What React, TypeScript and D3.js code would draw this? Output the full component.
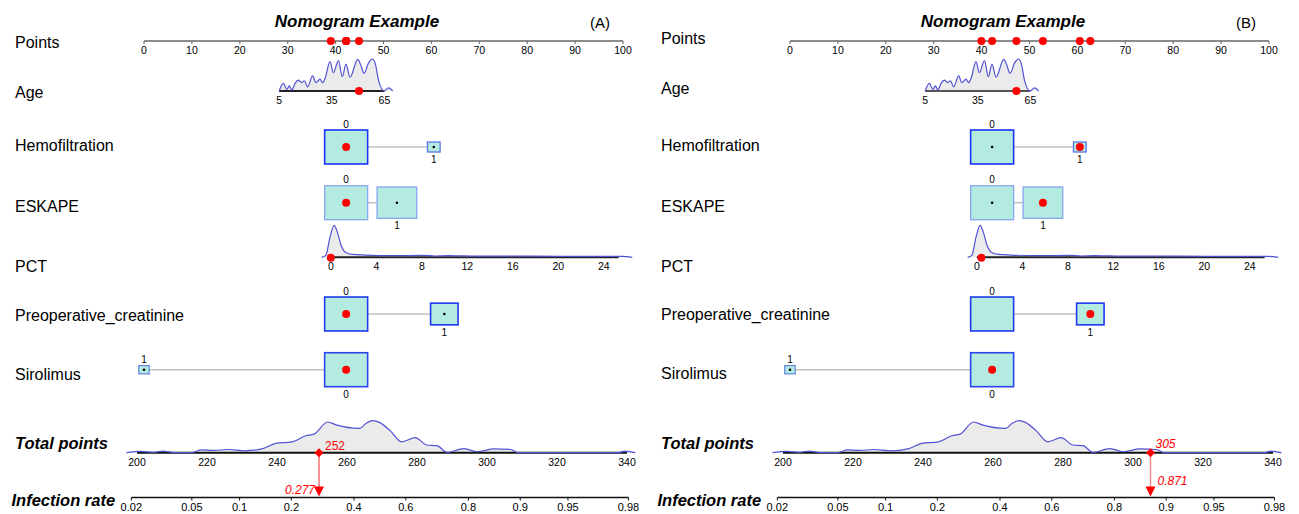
import React from "react";
import * as d3 from "d3";

const W = 1299;
const H = 514;

// ---------- data ----------
const panelIds = ["(A)", "(B)"];
const rowLabels = ["Points", "Age", "Hemofiltration", "ESKAPE", "PCT", "Preoperative_creatinine", "Sirolimus"];
const pointTicks = [0, 10, 20, 30, 40, 50, 60, 70, 80, 90, 100];
const ageTicks = [5, 35, 65];
const pctTicks = [0, 4, 8, 12, 16, 20, 24];
const totalTicks = [200, 220, 240, 260, 280, 300, 320, 340];
const riskTicks = [0.02, 0.05, 0.1, 0.2, 0.4, 0.6, 0.8, 0.9, 0.95, 0.98];

// continuous predictors: value -> points (read at two axis ticks)
const ageAxisValues = [5, 65];
const ageAxisPoints = [28.2, 50.2];
const pctAxisValues = [0, 24];
const pctAxisPoints = [39.0, 96.0];
const ageRange = [5, 65];
const pctRange = [0, 25.3];

// categorical predictors
const levels = ["0", "1"];
const hemoPoints = [42.2, 60.5];
const hemoFreq = [0.92, 0.08];
const eskapePoints = [42.2, 52.8];
const eskapeFreq = [0.54, 0.46];
const creatPoints = [42.2, 62.7];
const creatFreq = [0.71, 0.29];
const siroPoints = [42.2, 0];
const siroFreq = [0.945, 0.055];

// densities (relative height)
const ageDensX = [5.0, 7.5, 9.4, 10.9, 12.2, 14.1, 16.0, 17.9, 19.4, 21.3, 24.1, 26.0, 28.3, 29.8, 31.2, 34.0, 35.9, 38.8, 41.0, 43.1, 45.4, 49.8, 51.5, 53.4, 55.9, 58.1, 59.7, 61.6, 64.8, 67.3, 69.7];
const ageDensY = [0, 0.24, 0.05, 0.16, 0.03, 0.24, 0.34, 0.26, 0.32, 0.13, 0.47, 0.26, 0.37, 0.26, 0.4, 0.92, 0.57, 0.95, 0.45, 0.84, 0.43, 0.99, 0.81, 0.55, 0.87, 1.0, 0.87, 0.34, 0, 0.1, 0];
const pctDensX = [-0.8, -0.44, -0.07, 0.29, 0.58, 0.9, 1.27, 1.93, 3.0, 5.6, 8.1, 9.2, 10.3, 12.9, 16.2, 20.2, 23.8, 25.6, 26.5];
const pctDensY = [0, 0.06, 0.63, 1.0, 0.78, 0.375, 0.16, 0.09, 0.07, 0.05, 0.06, 0.04, 0.05, 0.035, 0.04, 0.03, 0.03, 0.03, 0];
const totDensX = [197, 201, 204.5, 207.4, 210.8, 215.6, 218.4, 221.8, 226.1, 230.9, 235.7, 239.6, 244.4, 248.2, 250.6, 254.5, 256.9, 263.6, 265.5, 267.3, 269.4, 272.3, 275.6, 279.5, 282.8, 285.7, 288.6, 293.4, 297.2, 302, 306.8, 308.8, 337.6, 339.5, 342.4];
const totDensY = [0, 0.04, 0.01, 0.05, 0, 0, 0.09, 0.07, 0.1, 0.06, 0.12, 0.29, 0.34, 0.53, 0.58, 0.96, 0.87, 0.76, 0.92, 1.0, 0.94, 0.69, 0.34, 0.47, 0.24, 0.22, 0.01, 0.13, 0.03, 0.12, 0.1, 0, 0, 0.05, 0];

// observations shown in each panel
const selAge = [50.5, 57];
const selHemo = [0, 1];
const selEskape = [0, 1];
const selPct = [0, 0.4];
const selCreat = [0, 1];
const selSiro = [0, 0];
const selTotal = [252, 305];
const selTotalText = ["252", "305"];
const selRiskText = ["0.277", "0.871"];

// logistic link between total points and infection rate
const riskT0 = 269.4;
const riskSlope = 0.0548;

// ---------- layout / style ----------
const FONT = "'Liberation Sans', Arial, Helvetica, sans-serif";
const PANEL_DX = [0, 646];
const LABEL_DY = [
  [0, 0, 0, 0, 0, 0, 0],
  [-4.4, -4.4, 0, 0.7, -0.5, -1, -0.5],
];
const rowLabelY = [42.7, 92.7, 145, 206, 266.5, 315, 374];
const Y = { points: 41, age: 91, hemo: 147, eskape: 202.7, pct: 257.3, creat: 314, siro: 369.7, total: 452.7, risk: 497.5 };
const DENS_H = 32;
const BOX_W = 43;
const BOX_ASPECT = 0.79;
const BOX_FILL = "#b3ebe0";
const DENS_STROKE = "#5252d4";
const DENS_FILL = "#ebebeb";
const RED = "#ff0000";
// centre dots not drawn: [panel, variable, level]
const noCentreDot: [number, string, number][] = [[1, "creat", 0]];

const catVars = [
  { key: "hemo", pts: hemoPoints, freq: hemoFreq, sel: selHemo, y: Y.hemo, stroke: ["#1a33ff", "#5b77e6"], sw: [1.6, 1.3] },
  { key: "eskape", pts: eskapePoints, freq: eskapeFreq, sel: selEskape, y: Y.eskape, stroke: ["#88a6ee", "#88a6ee"], sw: [1.3, 1.3] },
  { key: "creat", pts: creatPoints, freq: creatFreq, sel: selCreat, y: Y.creat, stroke: ["#2038f2", "#2038f2"], sw: [1.6, 1.6] },
  { key: "siro", pts: siroPoints, freq: siroFreq, sel: selSiro, y: Y.siro, stroke: ["#2a44ee", "#6a86e2"], sw: [1.6, 1.3] },
];

function Panel({ p }: { p: number }) {
  const dx = PANEL_DX[p];
  const xPts = d3.scaleLinear().domain([0, 100]).range([144 + dx, 623 + dx]);
  const agePts = d3.scaleLinear().domain(ageAxisValues).range(ageAxisPoints);
  const pctPts = d3.scaleLinear().domain(pctAxisValues).range(pctAxisPoints);
  const xAge = (v: number) => xPts(agePts(v));
  const xPct = (v: number) => xPts(pctPts(v));
  const xTot = d3.scaleLinear().domain([200, 340]).range([137 + dx, 627 + dx]);
  const logit = (q: number) => Math.log(q / (1 - q));
  const xRisk = (q: number) => xTot(riskT0 + logit(q) / riskSlope);
  const hScale = d3.scaleLinear().domain([0, 1]).range([0, DENS_H]);

  const densPaths = (xs: number[], ys: number[], xf: (v: number) => number, base: number) => {
    const data = xs.map((v, i) => [v, ys[i]] as [number, number]);
    const area = d3
      .area<[number, number]>()
      .x((d) => xf(d[0]))
      .y0(base)
      .y1((d) => base - hScale(d[1]))
      .curve(d3.curveMonotoneX);
    const line = d3
      .line<[number, number]>()
      .x((d) => xf(d[0]))
      .y((d) => base - hScale(d[1]))
      .curve(d3.curveMonotoneX);
    return { area: area(data) || "", line: line(data) || "" };
  };

  const ageD = densPaths(ageDensX, ageDensY, xAge, Y.age);
  const pctD = densPaths(pctDensX, pctDensY, xPct, Y.pct);
  const totD = densPaths(totDensX, totDensY, xTot, Y.total);

  const pointDots: number[] = [
    agePts(selAge[p]),
    hemoPoints[selHemo[p]],
    eskapePoints[selEskape[p]],
    pctPts(selPct[p]),
    creatPoints[selCreat[p]],
    siroPoints[selSiro[p]],
  ];

  const tx = xTot(selTotal[p]);
  const lineColor = p === 0 ? "#ff2a2a" : "#f08a8a";

  return (
    <g>
      {/* title */}
      <text x={357 + dx} y={27} textAnchor="middle" fontFamily={FONT} fontSize={17} fontWeight="bold" fontStyle="italic">
        Nomogram Example
      </text>
      <text x={600 + dx} y={27.5} textAnchor="middle" fontFamily={FONT} fontSize={15}>
        {panelIds[p]}
      </text>

      {/* row labels */}
      {rowLabels.map((l, i) => (
        <text key={l} x={15 + dx} y={rowLabelY[i] + LABEL_DY[p][i]} dominantBaseline="central" fontFamily={FONT} fontSize={16}>
          {l}
        </text>
      ))}
      <text x={15 + dx} y={442.7} dominantBaseline="central" fontFamily={FONT} fontSize={16.5} fontWeight="bold" fontStyle="italic">
        Total points
      </text>
      <text x={11.5 + dx} y={500} dominantBaseline="central" fontFamily={FONT} fontSize={16.5} fontWeight="bold" fontStyle="italic">
        Infection rate
      </text>

      {/* points axis */}
      <line x1={xPts(0)} x2={xPts(100)} y1={Y.points} y2={Y.points} stroke="#666" strokeWidth={1.5} />
      {pointTicks.map((t) => (
        <g key={t}>
          <line x1={xPts(t)} x2={xPts(t)} y1={Y.points} y2={Y.points + 3} stroke="#666" strokeWidth={1} />
          <text x={xPts(t)} y={50} textAnchor="middle" dominantBaseline="central" fontFamily={FONT} fontSize={10.5}>
            {t}
          </text>
        </g>
      ))}
      {pointDots.map((v, i) => (
        <circle key={i} cx={xPts(v)} cy={Y.points} r={4} fill={RED} />
      ))}

      {/* age */}
      <path d={ageD.area} fill={DENS_FILL} />
      <line x1={xAge(ageRange[0])} x2={xAge(ageRange[1])} y1={Y.age} y2={Y.age} stroke={p === 0 ? "#222" : "#555"} strokeWidth={2} />
      <path d={ageD.line} fill="none" stroke={DENS_STROKE} strokeWidth={1.2} />
      {ageTicks.map((t) => (
        <text key={t} x={xAge(t)} y={99.5} textAnchor="middle" dominantBaseline="central" fontFamily={FONT} fontSize={10.5}>
          {t}
        </text>
      ))}
      <circle cx={xAge(selAge[p])} cy={Y.age} r={4} fill={RED} />

      {/* categorical */}
      {catVars.map((v) => {
        const maxF = Math.max(...v.freq);
        const boxes = levels.map((lv, i) => {
          const w = BOX_W * Math.sqrt(v.freq[i] / maxF);
          const h = w * BOX_ASPECT;
          return { lv, i, cx: xPts(v.pts[i]), w, h };
        });
        const sorted = [...boxes].sort((a, b) => a.cx - b.cx);
        const L = sorted[0];
        const R = sorted[1];
        return (
          <g key={v.key}>
            <line x1={L.cx + L.w / 2} x2={R.cx - R.w / 2} y1={v.y} y2={v.y} stroke="#c0c0c0" strokeWidth={1.5} />
            {boxes.map((b) => (
              <rect key={b.lv} x={b.cx - b.w / 2} y={v.y - b.h / 2} width={b.w} height={b.h} fill={BOX_FILL} stroke={v.stroke[b.i]} strokeWidth={v.sw[b.i]} />
            ))}
            {boxes.map((b) => {
              if (v.sel[p] === b.i) return <circle key={"s" + b.lv} cx={b.cx} cy={v.y} r={4} fill={RED} />;
              const hidden = noCentreDot.some((n) => n[0] === p && n[1] === v.key && n[2] === b.i);
              return hidden ? null : <circle key={"s" + b.lv} cx={b.cx} cy={v.y} r={1.3} fill="#000" />;
            })}
            {sorted.map((b, k) => (
              <text
                key={"t" + b.lv}
                x={b.cx}
                y={k === 0 ? v.y - b.h / 2 - 6 : v.y + b.h / 2 + 7.5}
                textAnchor="middle"
                dominantBaseline="central"
                fontFamily={FONT}
                fontSize={10}
              >
                {b.lv}
              </text>
            ))}
          </g>
        );
      })}

      {/* PCT */}
      <path d={pctD.area} fill={DENS_FILL} />
      <line x1={xPct(pctRange[0])} x2={xPct(pctRange[1])} y1={Y.pct} y2={Y.pct} stroke="#222" strokeWidth={2} />
      <path d={pctD.line} fill="none" stroke={DENS_STROKE} strokeWidth={1.2} />
      {pctTicks.map((t) => (
        <text key={t} x={xPct(t)} y={265.7} textAnchor="middle" dominantBaseline="central" fontFamily={FONT} fontSize={10.5}>
          {t}
        </text>
      ))}
      <circle cx={xPct(selPct[p])} cy={Y.pct + 0.5} r={4} fill={RED} />

      {/* total points */}
      <path d={totD.area} fill={DENS_FILL} />
      <line x1={xTot(200)} x2={xTot(340)} y1={Y.total} y2={Y.total} stroke="#111" strokeWidth={2} />
      <path d={totD.line} fill="none" stroke={DENS_STROKE} strokeWidth={1.2} />
      {totalTicks.map((t) => (
        <text key={t} x={xTot(t)} y={461.7} textAnchor="middle" dominantBaseline="central" fontFamily={FONT} fontSize={10.5}>
          {t}
        </text>
      ))}

      {/* infection rate */}
      <line x1={xRisk(riskTicks[0])} x2={xRisk(riskTicks[riskTicks.length - 1])} y1={Y.risk} y2={Y.risk} stroke="#111" strokeWidth={1.5} />
      {riskTicks.map((t) => (
        <g key={t}>
          <line x1={xRisk(t)} x2={xRisk(t)} y1={Y.risk} y2={Y.risk + 3} stroke="#111" strokeWidth={1} />
          <text x={xRisk(t)} y={506.5} textAnchor="middle" dominantBaseline="central" fontFamily={FONT} fontSize={11}>
            {t}
          </text>
        </g>
      ))}

      {/* observation marker */}
      <line x1={tx} x2={tx} y1={Y.total} y2={Y.risk - 6} stroke={lineColor} strokeWidth={p === 0 ? 1 : 1.5} />
      <path d={`M${tx},${Y.total - 4.5}L${tx + 4.5},${Y.total}L${tx},${Y.total + 4.5}L${tx - 4.5},${Y.total}Z`} fill={RED} />
      <path d={`M${tx - 5},${Y.risk - 11}L${tx + 5},${Y.risk - 11}L${tx},${Y.risk - 1}Z`} fill={RED} />
      <text
        x={p === 0 ? tx + 6 : tx + 5}
        y={p === 0 ? 446 : 444.3}
        dominantBaseline="central"
        fontFamily={FONT}
        fontSize={12}
        fontStyle={p === 0 ? "normal" : "italic"}
        fill={RED}
      >
        {selTotalText[p]}
      </text>
      <text
        x={p === 0 ? tx - 4 : tx + 7}
        y={p === 0 ? 490 : 481}
        textAnchor={p === 0 ? "end" : "start"}
        dominantBaseline="central"
        fontFamily={FONT}
        fontSize={12}
        fontStyle="italic"
        fill={RED}
      >
        {selRiskText[p]}
      </text>
    </g>
  );
}

export default function App() {
  return (
    <svg width={W} height={H} style={{ position: "absolute", left: 0, top: 0, background: "#fff" }}>
      <rect width={W} height={H} fill="#fff" />
      <Panel p={0} />
      <Panel p={1} />
    </svg>
  );
}
